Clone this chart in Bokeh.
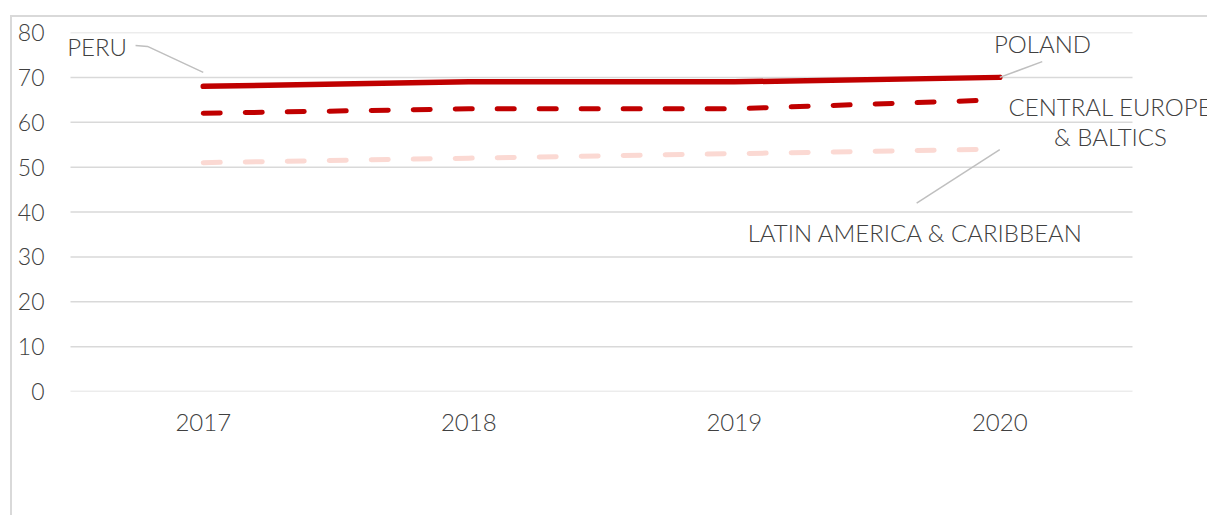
from bokeh.plotting import figure
from bokeh.models import FixedTicker, Range1d, Label
from bokeh.embed import file_html
from bokeh.resources import INLINE

years = ["2017", "2018", "2019", "2020"]
peru_poland = [68, 69, 69, 70]
central_europe = [62, 63, 63, 65]
latin_america = [51, 52, 53, 54]
y_ticks = [0, 10, 20, 30, 40, 50, 60, 70, 80]

FONT = "Lato Light"
TXT = "#404040"
RED = "#c00000"
PINK = "#fbd9d3"
LEAD = "#bfbfbf"
GRID = "#d9d9d9"

xs = [i + 0.5 for i in range(len(years))]
n = len(years)

p = figure(width=1197, height=500, output_backend="svg", toolbar_location=None,
           x_range=Range1d(-20 / 265.5, 4.29), y_range=Range1d(0, 80),
           min_border_left=38, min_border_top=15, min_border_right=0, min_border_bottom=126,
           margin=(15, 0, 0, 10),
           styles={"border-top": "2px solid #d9d9d9", "border-left": "2px solid #d9d9d9"})
p.outline_line_color = None
p.background_fill_color = "white"

p.xgrid.grid_line_color = None
p.ygrid.grid_line_color = None
# horizontal gridlines spanning the category area only
p.segment(x0=[0] * len(y_ticks), x1=[n] * len(y_ticks), y0=y_ticks, y1=y_ticks,
          line_color=GRID, line_width=1.5)

p.yaxis.ticker = FixedTicker(ticks=y_ticks)
p.xaxis.ticker = FixedTicker(ticks=xs)
p.xaxis.major_label_overrides = {x: y for x, y in zip(xs, years)}
for ax in (p.xaxis, p.yaxis):
    ax.axis_line_color = None
    ax.major_tick_line_color = None
    ax.minor_tick_line_color = None
    ax.major_label_text_font = FONT
    ax.major_label_text_color = TXT
p.yaxis.major_label_text_font_size = "23px"
p.xaxis.major_label_text_font_size = "24px"
p.yaxis.major_label_standoff = 0
p.xaxis.major_label_standoff = 16

p.line(xs, latin_america, line_color=PINK, line_width=5, line_dash="17 25", line_cap="round")
p.line(xs, central_europe, line_color=RED, line_width=5, line_dash="17 25", line_cap="round")
p.line(xs, peru_poland, line_color=RED, line_width=5.5, line_cap="round")

# leader lines
p.line([0.245, 0.29, 0.5], [77.1, 76.9, 71.1], line_color=LEAD, line_width=1.5)
p.line([3.66, 3.5], [73.5, 70.0], line_color=LEAD, line_width=1.5)
p.line([3.187, 3.5], [42.0, 53.9], line_color=LEAD, line_width=1.5)

def lab(x, y, t):
    p.add_layout(Label(x=x, y=y, text=t, text_font=FONT, text_font_size="24px",
                       text_color=TXT, text_align="center", text_baseline="middle",
                       level="overlay"))

lab(0.10, 76.8, "PERU")
lab(3.661, 77.5, "POLAND")
lab(3.917, 63.5, "CENTRAL EUROPE")
lab(3.917, 56.8, "& BALTICS")
lab(3.183, 35.4, "LATIN AMERICA & CARIBBEAN")

open("out.html", "w").write(file_html(p, INLINE))
